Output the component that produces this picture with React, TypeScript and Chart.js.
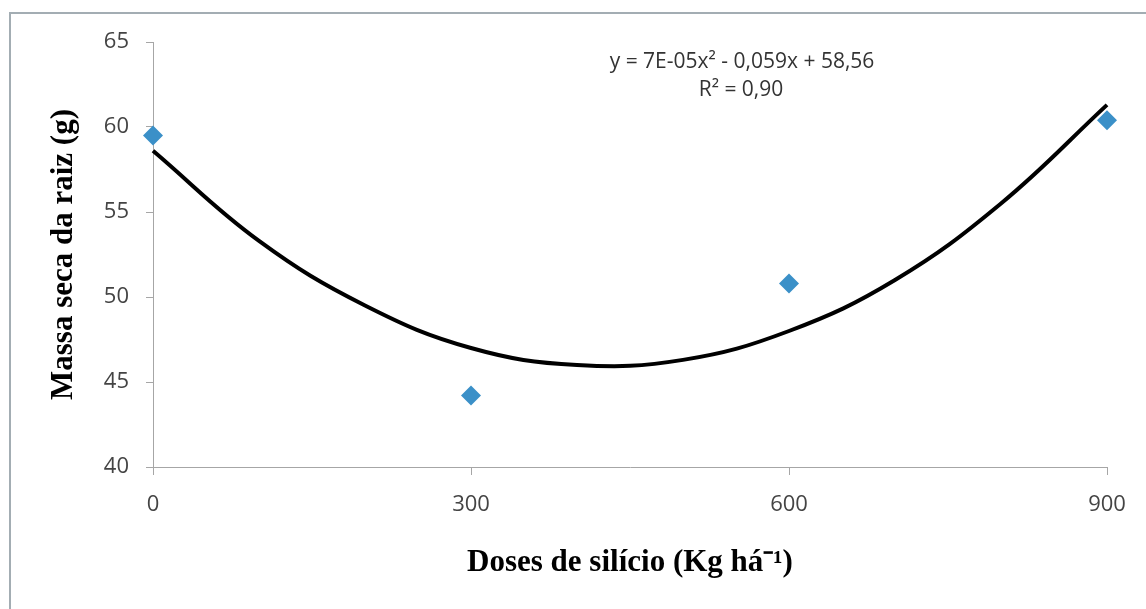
import React, { useEffect, useRef } from "react";
import { Chart, registerables } from "chart.js";

Chart.register(...registerables);

// Observed points (Doses de silício vs Massa seca da raiz)
const doses = [0, 300, 600, 900];
const massa = [59.5, 44.2, 50.8, 60.4];

// Trendline
const curveX = [0, 100, 200, 300, 400, 500, 600, 700, 800, 900];
const curveY = [58.6, 53.3, 49.5, 47.0, 46.0, 46.3, 48.0, 51.0, 55.5, 61.3];

const yTicks = [40, 45, 50, 55, 60, 65];
const xTicks = [0, 300, 600, 900];

const equationText = "y = 7E-05x\u00B2 - 0,059x + 58,56";
const r2Text = "R\u00B2 = 0,90";
const yTitle = "Massa seca da raiz (g)";
const xTitle = "Doses de silício (Kg há\u207B\u00B9)";

const W = 1146;
const H = 609;

const decorPlugin = {
  id: "decor",
  beforeDraw(chart: any) {
    const ctx = chart.ctx;
    ctx.save();
    ctx.fillStyle = "#ffffff";
    ctx.fillRect(0, 0, chart.width, chart.height);
    ctx.strokeStyle = "#a3adb3";
    ctx.lineWidth = 2;
    ctx.beginPath();
    ctx.moveTo(10, chart.height);
    ctx.lineTo(10, 13);
    ctx.lineTo(chart.width, 13);
    ctx.stroke();
    ctx.restore();
  },
  afterDraw(chart: any) {
    const ctx = chart.ctx;
    ctx.save();
    ctx.fillStyle = "#333333";
    ctx.font = "21px 'Open Sans', sans-serif";
    ctx.textAlign = "center";
    ctx.textBaseline = "middle";
    ctx.fillText(equationText, 742, 62);
    ctx.fillText(r2Text, 741, 90);
    ctx.restore();
  },
};

export default function App() {
  const ref = useRef<HTMLCanvasElement | null>(null);

  useEffect(() => {
    if (!ref.current) return;
    const tickFont = { family: "'Open Sans', sans-serif", size: 22 };
    const titleFont = { family: "'Liberation Serif', 'Times New Roman', serif", size: 31, weight: "bold" as const };
    const chart = new Chart(ref.current, {
      type: "scatter",
      data: {
        datasets: [
          {
            label: "Tendência",
            data: curveX.map((x, i) => ({ x, y: curveY[i] })),
            showLine: true,
            borderColor: "#000000",
            borderWidth: 4,
            pointRadius: 0,
            tension: 0.4,
            clip: false,
            order: 2,
          } as any,
          {
            label: "Massa seca",
            data: doses.map((x, i) => ({ x, y: massa[i] })),
            pointStyle: "rectRot",
            pointRadius: 10,
            pointBackgroundColor: "#3b90c8",
            pointBorderColor: "#3b90c8",
            pointBorderWidth: 0,
            showLine: false,
            clip: false,
            order: 1,
          } as any,
        ],
      },
      options: {
        animation: false,
        responsive: false,
        maintainAspectRatio: false,
        layout: { padding: { left: 45, right: 39, top: 42, bottom: 27 } },
        plugins: {
          legend: { display: false },
          tooltip: { enabled: false },
        },
        scales: {
          x: {
            type: "linear",
            min: 0,
            max: 900,
            afterBuildTicks: (s: any) => {
              s.ticks = xTicks.map((v) => ({ value: v }));
            },
            afterFit: (s: any) => {
              s.height = H - 27 - 467;
            },
            grid: {
              display: true,
              drawOnChartArea: false,
              drawTicks: true,
              tickLength: 8,
              color: "#a6a6a6",
              lineWidth: 1,
            },
            border: { display: true, color: "#a6a6a6", width: 1 },
            ticks: {
              font: tickFont,
              color: "#444444",
              padding: 17,
              maxRotation: 0,
              autoSkip: false,
            },
            title: {
              display: true,
              text: xTitle,
              font: titleFont,
              color: "#000000",
              padding: 0,
            },
          },
          y: {
            type: "linear",
            min: 40,
            max: 65,
            afterBuildTicks: (s: any) => {
              s.ticks = yTicks.map((v) => ({ value: v }));
            },
            afterFit: (s: any) => {
              s.width = 153 - 45;
            },
            grid: {
              display: true,
              drawOnChartArea: false,
              drawTicks: true,
              tickLength: 7,
              color: "#a6a6a6",
              lineWidth: 1,
            },
            border: { display: true, color: "#a6a6a6", width: 1 },
            ticks: {
              font: tickFont,
              color: "#444444",
              padding: 17,
              autoSkip: false,
            },
            title: {
              display: true,
              text: yTitle,
              font: titleFont,
              color: "#000000",
              padding: 0,
            },
          },
        },
      },
      plugins: [decorPlugin],
    });
    return () => chart.destroy();
  }, []);

  return (
    <div style={{ position: "fixed", left: 0, top: 0, width: W, height: H, background: "#fff" }}>
      <canvas ref={ref} width={W} height={H} style={{ width: W, height: H, display: "block" }} />
    </div>
  );
}
